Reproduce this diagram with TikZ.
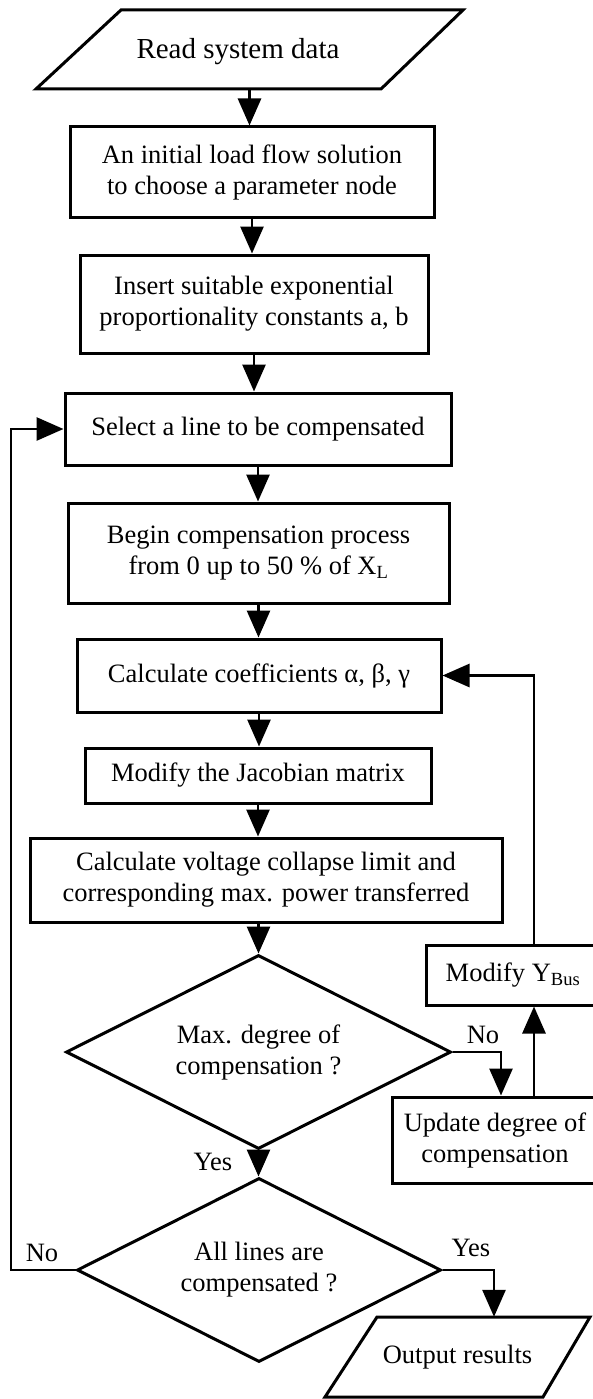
\documentclass[tikz,border=0pt]{standalone}
\usepackage{fontspec}
\setmainfont{Liberation Serif}
\usetikzlibrary{arrows.meta,shapes.geometric,calc}
\begin{document}
\begin{tikzpicture}[x=1pt,y=-1pt,
  every node/.style={font=\fontsize{26.5}{31}\selectfont, align=center, inner sep=0pt},
  proc/.style={draw, line width=3pt, rectangle},
  dec/.style={draw, line width=3pt, diamond, shape aspect=2},
  io/.style={rectangle},
  ioshape/.style={draw, line width=3pt, line join=miter},
  conn/.style={line width=2.8pt, -{Triangle[length=27pt,width=23pt]}},
  lbl/.style={}]
\useasboundingbox (0,0) rectangle (592,1399);

% input / output parallelograms
\node[io, minimum width=427pt, minimum height=79pt] (read) at (249.5,49.5) {};
\node[font=\fontsize{29}{33}\selectfont] (readtext) at (238,52) {Read system data};
\draw[ioshape] (121,10) -- (463,10) -- (381,89) -- (36,89) -- cycle;

\node[io, minimum width=265pt, minimum height=80pt] (out) at (457.5,1357) {Output results};
\draw[ioshape] (377,1317) -- (590,1317) -- (543,1397) -- (325,1397) -- cycle;

% process boxes
\node[proc, minimum width=364pt, minimum height=90pt] (init) at (252,172) {An initial load flow solution\\to choose a parameter node};
\node[proc, minimum width=348pt, minimum height=98pt] (insert) at (254,304) {Insert suitable exponential\\proportionality constants a, b};
\node[proc, minimum width=386pt, minimum height=72pt] (select) at (258,429) {Select a line to be compensated};
\node[proc, minimum width=381pt, minimum height=100pt] (begin) at (258.5,553) {Begin compensation process\\from 0 up to 50 \% of X\textsubscript{L}};
\node[proc, minimum width=364pt, minimum height=73pt] (coef) at (259,675.5) {Calculate coefficients α, β, γ};
\node[proc, minimum width=346pt, minimum height=55pt] (jac) at (258,775.5) {Modify the Jacobian matrix};
\node[proc, minimum width=472pt, minimum height=84pt] (volt) at (266,880) {Calculate voltage collapse limit and\\corresponding max. power transferred};
\node[proc, minimum width=174pt, minimum height=60pt] (ybus) at (513,975) {Modify Y\textsubscript{Bus}};
\node[proc, minimum width=206pt, minimum height=86pt] (update) at (495,1140) {Update degree of\\compensation};

% decisions
\node[dec, minimum width=385pt, minimum height=194pt] (dia1) at (258.5,1052) {Max. degree of\\compensation ?};
\node[dec, minimum width=364pt, minimum height=184pt] (dia2) at (259,1270) {All lines are\\compensated ?};

% helper coordinates
\coordinate (no1) at (501,1052);
\coordinate (upx) at (534,0);
\coordinate (nox) at (11,1270);
\coordinate (yesx) at (494,1270);

% main flow
\draw[conn] (read.south) -- (read.south |- init.north);
\draw[conn] (init.south) -- (init.south |- insert.north);
\draw[conn] (insert.south) -- (insert.south |- select.north);
\draw[conn] (select.south) -- (select.south |- begin.north);
\draw[conn] (begin.south) -- (begin.south |- coef.north);
\draw[conn] (coef.south) -- (coef.south |- jac.north);
\draw[conn] (jac.south) -- (jac.south |- volt.north);
\draw[conn] (volt.south -| dia1.north) -- (dia1.north);
\draw[conn] (dia1.south) -- (dia1.south |- dia2.north);

% branches
\draw[conn] (dia1.east) -- (no1) -- (no1 |- update.north);
\draw[conn] (update.north -| upx) -- (ybus.south -| upx);
\draw[conn] (ybus.north -| upx) |- (coef.east);
\draw[conn] (dia2.west) -- (nox) |- (select.west);
\draw[conn] (dia2.east) -- (yesx) -- (yesx |- out.north);

% labels
\node[lbl] (lno1) at (483,1035) {No};
\node[lbl] (lyes1) at (213,1162) {Yes};
\node[lbl] (lno2) at (42,1253) {No};
\node[lbl] (lyes2) at (471,1248) {Yes};
\end{tikzpicture}
\end{document}
